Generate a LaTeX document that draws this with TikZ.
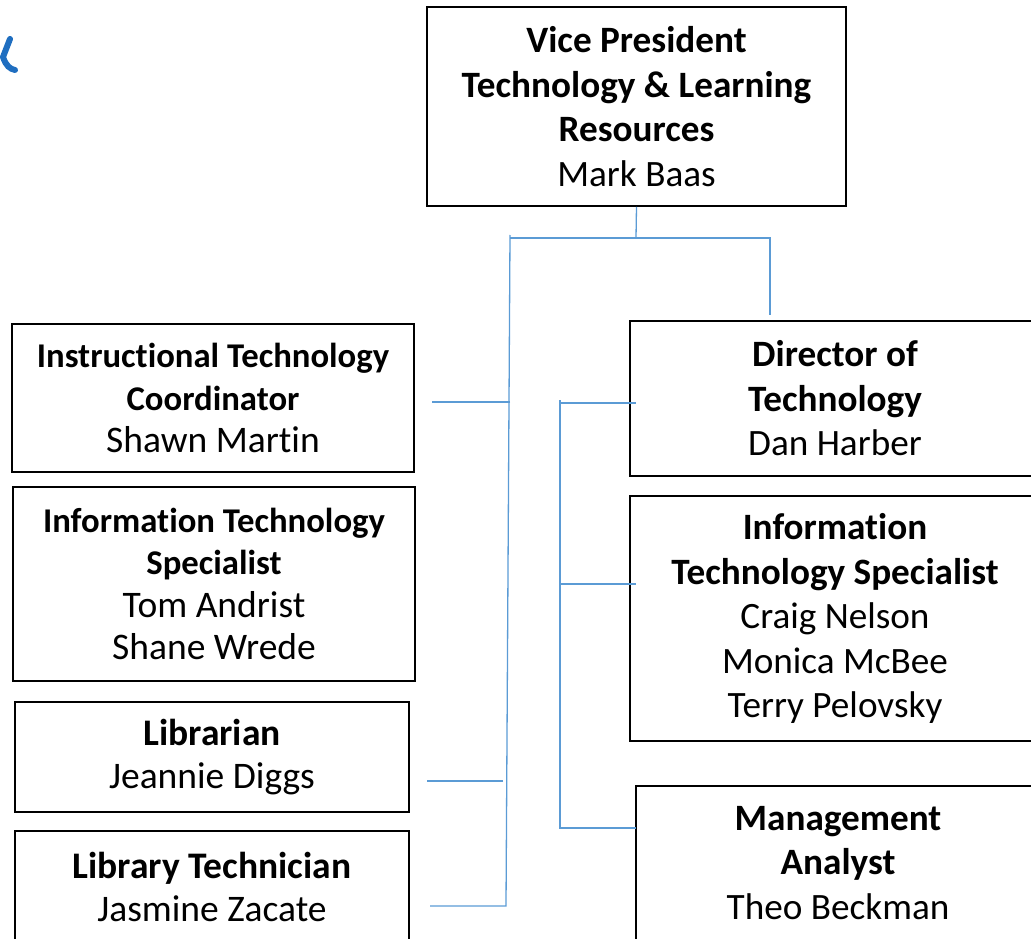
\documentclass[tikz,border=0pt]{standalone}
\usepackage{fontspec}
\setmainfont{Carlito}[Ligatures=NoCommon]
\usepackage{xcolor}
\usetikzlibrary{calc}
\definecolor{lnblue}{RGB}{91,155,213}
\definecolor{markblue}{RGB}{31,110,192}
\newcommand\lefthead[1]{{\fontsize{34.7}{42.5}\selectfont\bfseries #1}}
\tikzstyle{box}=[draw,line width=1.6pt,align=center,inner sep=0pt,font=\fontsize{37.2}{44.5}\selectfont]
\tikzstyle{lbox}=[box,font=\fontsize{37.5}{42.5}\selectfont]
\tikzstyle{ln}=[line width=1.3pt,draw=lnblue]
\begin{document}
\begin{tikzpicture}[x=1pt,y=-1pt]
  \useasboundingbox (0,0) rectangle (1031,939);
  \draw[markblue,line width=6pt,line cap=round] (10,39) -- (3,57) .. controls (6,66) and (10,69) .. (15,70);

  \node[box,minimum width=419pt,minimum height=199pt] (vp) at (636.5,106.5)
    {\textbf{Vice President}\\\textbf{Technology \& Learning}\\\textbf{Resources}\\Mark Baas};

  \node[lbox,minimum width=402pt,minimum height=148pt] (itc) at (213,398)
    {\lefthead{Instructional Technology}\\\lefthead{Coordinator}\\Shawn Martin};
  \node[lbox,minimum width=402pt,minimum height=194pt] (itsl) at (214,584)
    {\lefthead{Information Technology}\\\lefthead{Specialist}\\Tom Andrist\\Shane Wrede};
  \node[lbox,minimum width=394pt,minimum height=110pt] (lib) at (212,757)
    {\textbf{Librarian}\\Jeannie Diggs};
  \node[lbox,minimum width=394pt,minimum height=112pt] (libt) at (212,887)
    {\textbf{Library Technician}\\Jasmine Zacate};

  \node[box,minimum width=410pt,minimum height=155pt] (dir) at (835,398.5)
    {\textbf{Director of}\\\textbf{Technology}\\Dan Harber};
  \node[box,minimum width=410pt,minimum height=245pt] (itsr) at (835,618.5)
    {\textbf{Information}\\\textbf{Technology Specialist}\\Craig Nelson\\Monica McBee\\Terry Pelovsky};
  \node[box,minimum width=404pt,minimum height=154pt] (ma) at (838,863)
    {\textbf{Management}\\\textbf{Analyst}\\Theo Beckman};

  \coordinate (vpj) at (636,238);
  \coordinate (lj) at (510,238);
  \coordinate (rj) at (770,238);
  \coordinate (dirtop) at (770,315);
  \coordinate (ltop) at (510,235);
  \coordinate (lbot) at (506,906);
  \coordinate (itcj) at (510,402);
  \coordinate (itcend) at (432,402);
  \coordinate (libj) at (503,781);
  \coordinate (libend) at (427,781);
  \coordinate (libtend) at (430,906);
  \coordinate (rtop) at (560,400);
  \coordinate (dirj) at (560,403);
  \coordinate (dirend) at (636,403);
  \coordinate (itsrj) at (560,584);
  \coordinate (itsrend) at (636,584);
  \coordinate (maj) at (560,828);
  \coordinate (maend) at (636,828);

  \draw[ln] (vp.south) -- (vpj);
  \draw[ln] (lj) -- (rj) -- (dirtop);
  \draw[ln] (ltop) -- (lbot) -- (libtend);
  \draw[ln] (itcj) -- (itcend);
  \draw[ln] (libj) -- (libend);
  \draw[ln] (rtop) -- (maj) -- (maend);
  \draw[ln] (dirj) -- (dirend);
  \draw[ln] (itsrj) -- (itsrend);
\end{tikzpicture}
\end{document}
